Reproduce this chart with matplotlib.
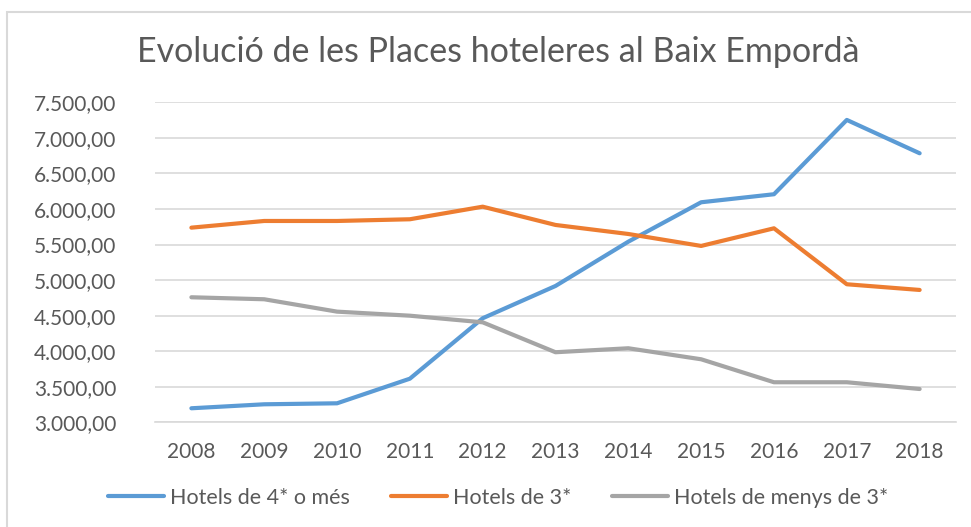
import matplotlib
matplotlib.use("Agg")
import matplotlib.pyplot as plt
from matplotlib.patches import Rectangle
from matplotlib.ticker import FuncFormatter

plt.rcParams['font.family'] = ['Lato', 'DejaVu Sans']

years = ['2008', '2009', '2010', '2011', '2012', '2013', '2014', '2015', '2016', '2017', '2018']
hotels_4 = [3197, 3253, 3267, 3613, 4463, 4917, 5540, 6094, 6207, 7252, 6783]
hotels_3 = [5737, 5831, 5831, 5855, 6032, 5775, 5648, 5480, 5728, 4941, 4861]
hotels_menys3 = [4758, 4730, 4556, 4499, 4406, 3985, 4041, 3886, 3563, 3563, 3468]

labels = ['Hotels de 4* o més', 'Hotels de 3*', 'Hotels de menys de 3*']
colors = ['#5B9BD5', '#ED7D31', '#A5A5A5']
text_color = '#595959'

fig = plt.figure(figsize=(9.71, 5.27), dpi=100)
ax = fig.add_axes([0.1596, 0.1987, 0.8250, 0.6072])

x = list(range(len(years)))
for vals, lab, col in zip([hotels_4, hotels_3, hotels_menys3], labels, colors):
    ax.plot(x, vals, color=col, lw=3, label=lab, solid_capstyle='round', solid_joinstyle='round')

ax.set_xlim(-0.5, len(years) - 0.5)
ax.set_ylim(3000, 7500)
ax.set_yticks(range(3000, 7501, 500))
ax.set_xticks(x)
ax.set_xticklabels(years)


def fmt(v, pos):
    s = f"{v:,.2f}"
    return s.replace(',', 'X').replace('.', ',').replace('X', '.')


ax.yaxis.set_major_formatter(FuncFormatter(fmt))
ax.grid(axis='y', color='#D9D9D9', lw=1.2)
ax.set_axisbelow(True)
for s in ['top', 'right', 'left']:
    ax.spines[s].set_visible(False)
ax.spines['bottom'].set_color('#D9D9D9')
ax.spines['bottom'].set_linewidth(1.2)
ax.tick_params(length=0, labelsize=15, colors=text_color)
ax.tick_params(axis='y', pad=28)
ax.tick_params(axis='x', pad=14)

fig.text(0.513, 1 - 52 / 527, 'Evolució de les Places hoteleres al Baix Empordà',
         ha='center', va='center', fontsize=24.5, color=text_color)

fig.legend(loc='center', bbox_to_anchor=(0.513, 1 - 498 / 527), ncol=3, frameon=False,
           fontsize=15.5, labelcolor=text_color, handlelength=2.6, handletextpad=0.28,
           columnspacing=1.9)

fig.patches.append(Rectangle((7 / 971, -0.1), 1.2, 1 - 12 / 527 + 0.1, transform=fig.transFigure,
                             fill=False, edgecolor='#D9D9D9', lw=1.5))

fig.savefig('out.png', dpi=100)
